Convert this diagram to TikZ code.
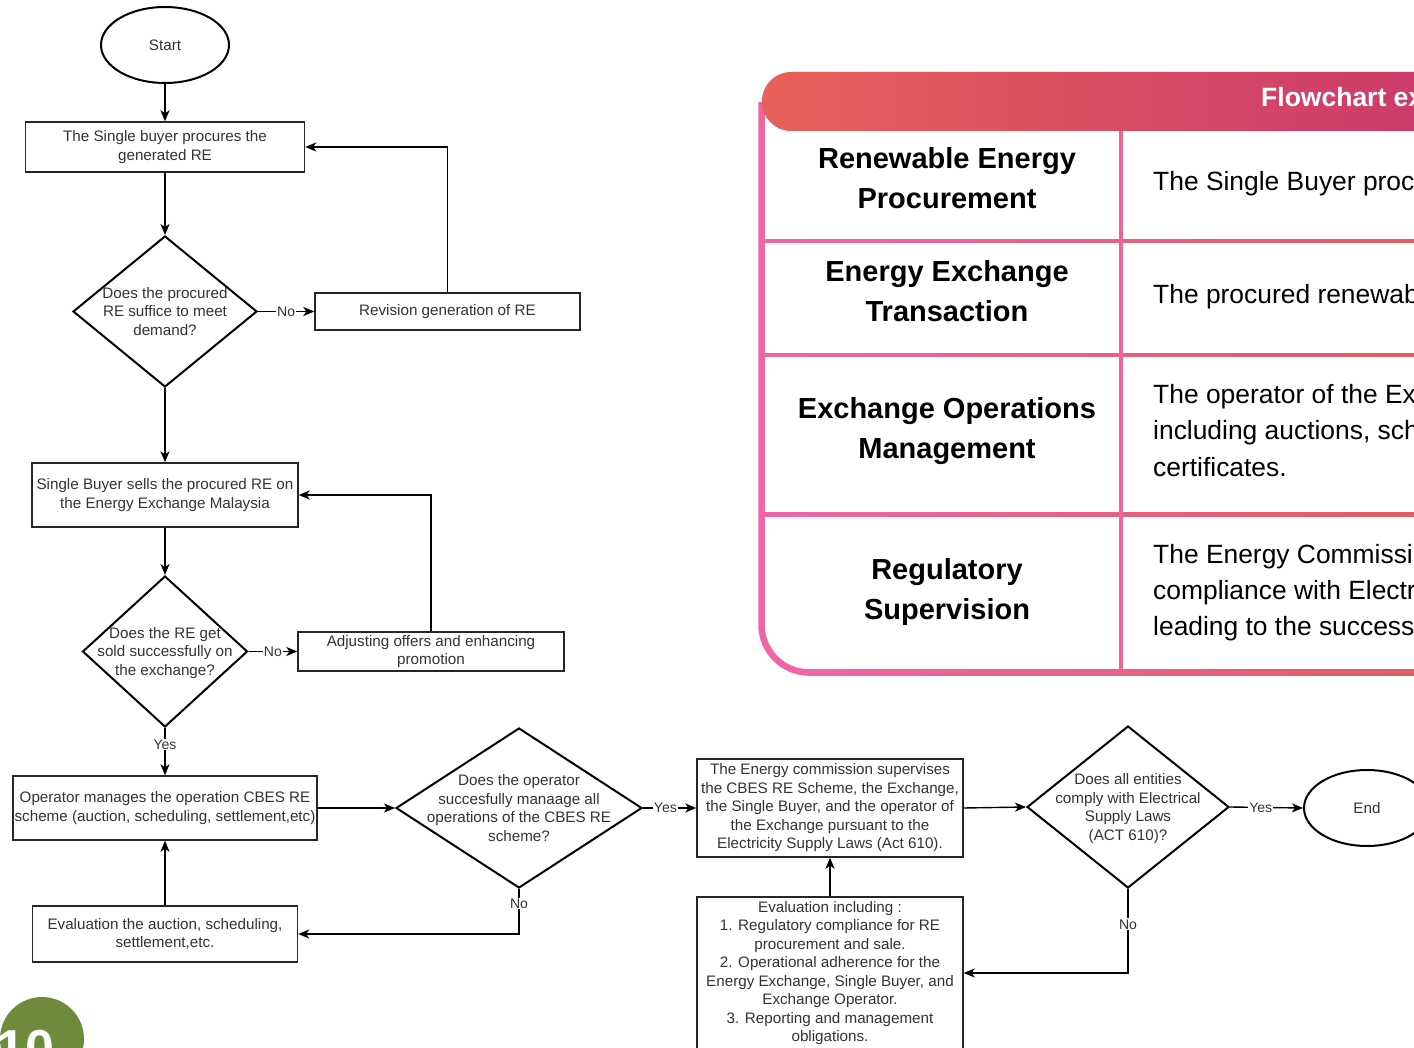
\documentclass[tikz,border=0pt]{standalone}
\usepackage{fontspec}
\setmainfont{Liberation Sans}
\usetikzlibrary{shapes.geometric,arrows.meta}
\definecolor{hdrL}{HTML}{E9605A}
\definecolor{hdrR}{HTML}{CB3A6B}
\definecolor{pinkb}{HTML}{EF65A8}
\definecolor{coralb}{HTML}{E25C62}
\definecolor{divc}{HTML}{EB6595}
\definecolor{olivec}{HTML}{6E8A3B}
\definecolor{fgc}{HTML}{333333}
\newcommand{\dtxt}[1]{\smash{\makebox[0pt]{\raisebox{-5.2pt}{\begin{tabular}{@{}c@{}}#1\end{tabular}}}}}
\begin{document}
\begin{tikzpicture}[x=1pt,y=-1pt,
  ff/.style={font=\fontsize{15.2}{18.5}\selectfont, text=fgc},
  box/.style={ff, draw=black!85, line width=1.4pt, rectangle, inner sep=0pt, align=center},
  dec/.style={ff, draw=black, line width=2pt, diamond, inner sep=0pt},
  term/.style={ff, draw=black, line width=2pt, ellipse, inner sep=0pt},
  conn/.style={draw=black, line width=1.4pt, -{Stealth[length=11pt,width=9pt,inset=3pt]}},
  elab/.style={fill=white, inner sep=1pt, font=\fontsize{14}{14}\selectfont, text=fgc},
  hcell/.style={font=\fontsize{29}{40}\selectfont\bfseries, text=black, anchor=base, inner sep=0pt},
  dcell/.style={font=\fontsize{26.4}{36}\selectfont, text=black, anchor=base west, inner sep=0pt}
]
\useasboundingbox (0,0) rectangle (1414,1048);
\fill[white] (0,0) rectangle (1414,1048);
\clip (0,0) rectangle (1414,1048);

% ---------------- table ----------------
\draw[pinkb, line width=6.5pt] (761.5,102) -- (761.5,624.5) .. controls (761.5,651) and (782.5,672.5) .. (809.5,672.5);
\shade[left color=pinkb, right color=coralb] (808,669.2) rectangle (1414,675.8);
\shade[left color=pinkb, right color=coralb] (764,239.2) rectangle (1414,242.8);
\shade[left color=pinkb, right color=coralb] (764,353.2) rectangle (1414,356.8);
\shade[left color=pinkb, right color=coralb] (764,512.5) rectangle (1414,516.1);
\fill[divc] (1119.2,131) rectangle (1122.8,670);
\shade[left color=hdrL, right color=hdrR, rounded corners=29pt] (762,72) rectangle (1444,131);
\node[font=\fontsize{26.5}{30}\selectfont\bfseries, text=white, anchor=base west, inner sep=0pt] (title) at (1261,107) {Flowchart ex};

\node[hcell] (r1a) at (947,169) {Renewable Energy};
\node[hcell] (r1b) at (947,209) {Procurement};
\node[hcell] (r2a) at (947,282) {Energy Exchange};
\node[hcell] (r2b) at (947,322) {Transaction};
\node[hcell] (r3a) at (947,419) {Exchange Operations};
\node[hcell] (r3b) at (947,459) {Management};
\node[hcell] (r4a) at (947,579) {Regulatory};
\node[hcell] (r4b) at (947,619) {Supervision};
\node[dcell] (t1) at (1153,191) {The Single Buyer proc};
\node[dcell] (t2) at (1153,304) {The procured renewab};
\node[dcell] (t3a) at (1153,404) {The operator of the Ex};
\node[dcell] (t3b) at (1153,440) {including auctions, sch};
\node[dcell] (t3c) at (1153,476) {certificates.};
\node[dcell] (t4a) at (1153,563) {The Energy Commissi};
\node[dcell] (t4b) at (1153,599) {compliance with Electr};
\node[dcell] (t4c) at (1153,635) {leading to the success};

\fill[olivec] (42,1039) circle[radius=42];
\node[font=\fontsize{52}{52}\selectfont\bfseries, text=white, anchor=base west, inner sep=0pt] (pg) at (-4,1066) {10};

% ---------------- flowchart ----------------
\node[term, minimum width=128pt, minimum height=76pt] (start) at (165,45) {Start};
\node[box, minimum width=279pt, minimum height=50pt] (b1) at (165,147) {The Single buyer procures the\\generated RE};
\node[dec, minimum width=184pt, minimum height=151pt] (d1) at (165,311.5) {\dtxt{Does the procured\\RE suffice to meet\\demand?}};
\node[box, minimum width=265pt, minimum height=37pt] (rev) at (447.5,311.5) {Revision generation of RE};
\node[box, minimum width=266pt, minimum height=64pt] (b2) at (165,495) {Single Buyer sells the procured RE on\\the Energy Exchange Malaysia};
\node[dec, minimum width=165pt, minimum height=151pt] (d2) at (165,651.5) {\dtxt{Does the RE get\\sold successfully on\\the exchange?}};
\node[box, minimum width=266pt, minimum height=39pt] (adj) at (431,651.5) {Adjusting offers and enhancing\\promotion};
\node[box, minimum width=304pt, minimum height=64pt] (op) at (165,808) {Operator manages the operation CBES RE\\scheme (auction, scheduling, settlement,etc)};
\node[dec, minimum width=246pt, minimum height=160pt] (d3) at (519,808) {\dtxt{Does the operator\\succesfully manaage all\\operations of the CBES RE\\scheme?}};
\node[box, minimum width=265pt, minimum height=56pt] (ev) at (165,934) {Evaluation the auction, scheduling,\\settlement,etc.};
\node[box, minimum width=266pt, minimum height=98pt] (com) at (830,808) {The Energy commission supervises\\the CBES RE Scheme, the Exchange,\\the Single Buyer, and the operator of\\the Exchange pursuant to the\\Electricity Supply Laws (Act 610).};
\node[dec, minimum width=202pt, minimum height=162pt] (d4) at (1128,807) {\dtxt{Does all entities\\comply with Electrical\\Supply Laws\\(ACT 610)?}};
\node[term, minimum width=126pt, minimum height=76pt] (endn) at (1367,808) {End};
\node[box, minimum width=266pt, minimum height=152pt] (ev2) at (830,973) {Evaluation including :\\1. Regulatory compliance for RE\\procurement and sale.\\2. Operational adherence for the\\Energy Exchange, Single Buyer, and\\Exchange Operator.\\3. Reporting and management\\obligations.};

\draw[conn] (start.south) -- (b1.north);
\draw[conn] (b1.south) -- (d1.north);
\draw[conn] (d1.east) -- node[elab] {No} (rev.west);
\draw[conn] (rev.north) |- (b1.east);
\draw[conn] (d1.south) -- (b2.north);
\draw[conn] (b2.south) -- (d2.north);
\draw[conn] (d2.east) -- node[elab] {No} (adj.west);
\draw[conn] (adj.north) |- (b2.east);
\draw[conn] (d2.south) -- node[elab, pos=0.35] {Yes} (op.north);
\draw[conn] (op.east) -- (d3.west);
\draw[conn] (d3.east) -- node[elab, pos=0.42] {Yes} (com.west);
\draw[conn] (d3.south) |- node[elab, pos=0.16] {No} (ev.east);
\draw[conn] (ev.north) -- (op.south);
\draw[conn] (com.east) -- (d4.west);
\draw[conn] (d4.east) -- node[elab, pos=0.42] {Yes} (endn.west);
\draw[conn] (d4.south) |- node[elab, pos=0.21] {No} (ev2.east);
\draw[conn] (ev2.north) -- (com.south);
\end{tikzpicture}
\end{document}
